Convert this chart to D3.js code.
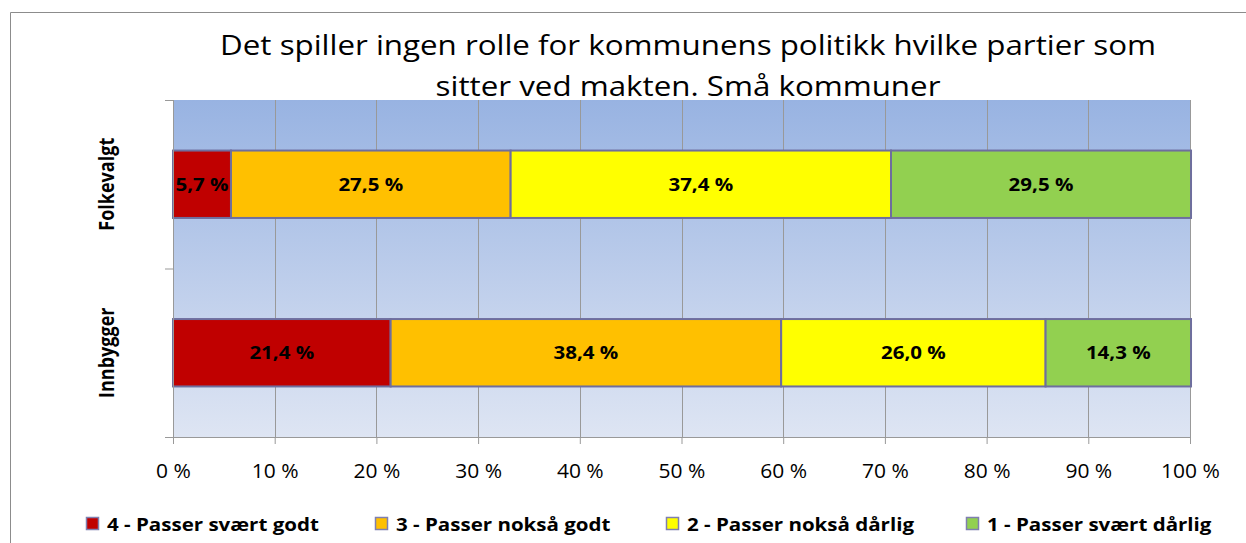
<!DOCTYPE html>
<html>
<head>
<meta charset="utf-8">
<script src="https://cdn.jsdelivr.net/npm/d3@7"></script>
<style>
  body { margin: 0; background: #fff; }
  text { font-family: "Open Sans", sans-serif; }
</style>
</head>
<body>
<script>
// data
const categories = ["Folkevalgt", "Innbygger"];
const seriesNames = ["4 - Passer svært godt", "3 - Passer nokså godt", "2 - Passer nokså dårlig", "1 - Passer svært dårlig"];
const folkevalgt = [5.7, 27.5, 37.4, 29.5];
const innbygger = [21.4, 38.4, 26.0, 14.3];
const colors = ["#C00000", "#FFC000", "#FFFF00", "#92D050"];
const xTicks = [0, 10, 20, 30, 40, 50, 60, 70, 80, 90, 100];
const titleLines = ["Det spiller ingen rolle for kommunens politikk hvilke partier som", "sitter ved makten. Små kommuner"];

const width = 1246, height = 543;
const margin = {top: 100, right: 56, bottom: 106, left: 173};
const innerW = width - margin.left - margin.right;
const innerH = height - margin.top - margin.bottom;
const stretch = 1.14; // the original picture is stretched horizontally

const svg = d3.select("body")
    .append("svg")
    .attr("width", width)
    .attr("height", height);

// outer frame
svg.append("path")
    .attr("d", `M10.5,${height} L10.5,12.5 L${width},12.5`)
    .attr("fill", "none")
    .attr("stroke", "#8c8c8c")
    .attr("stroke-width", 1);

// title
svg.append("g")
    .selectAll("g")
    .data(titleLines)
    .join("g")
    .attr("transform", (d, i) => `translate(688,${55 + i * 41}) scale(1.16,1)`)
    .append("text")
    .attr("text-anchor", "middle")
    .attr("font-size", 27)
    .attr("fill", "#000")
    .text(d => d);

const defs = svg.append("defs");
const grad = defs.append("linearGradient")
    .attr("id", "bg")
    .attr("x1", 0).attr("y1", 0).attr("x2", 0).attr("y2", 1);
grad.append("stop").attr("offset", "0%").attr("stop-color", "#98B3E2");
grad.append("stop").attr("offset", "100%").attr("stop-color", "#DEE5F3");

const g = svg.append("g")
    .attr("transform", `translate(${margin.left},${margin.top})`);

const x = d3.scaleLinear().domain([0, 100]).range([0, innerW]);
const y = d3.scaleBand().domain(categories).range([0, innerH]).paddingInner(0.6).paddingOuter(0.3);

g.append("rect")
    .attr("width", innerW)
    .attr("height", innerH)
    .attr("fill", "url(#bg)");

// gridlines
g.append("g")
    .selectAll("line")
    .data(xTicks.slice(1))
    .join("line")
    .attr("x1", d => Math.round(x(d)) + 0.5)
    .attr("x2", d => Math.round(x(d)) + 0.5)
    .attr("y1", 0)
    .attr("y2", innerH)
    .attr("stroke", "#999")
    .attr("stroke-width", 1);

// stacked data
const rows = categories.map((c, i) => {
    const vals = i === 0 ? folkevalgt : innbygger;
    const o = {cat: c};
    seriesNames.forEach((s, j) => o[s] = vals[j]);
    return o;
});
const stacked = d3.stack().keys(seriesNames)(rows);

const layers = g.append("g")
    .selectAll("g")
    .data(stacked)
    .join("g")
    .attr("fill", (d, i) => colors[i]);

layers.selectAll("rect")
    .data(d => d)
    .join("rect")
    .attr("x", d => x(d[0]))
    .attr("y", d => y(d.data.cat))
    .attr("width", d => x(d[1]) - x(d[0]))
    .attr("height", y.bandwidth())
    .attr("stroke", "#6E6E9E")
    .attr("stroke-width", 2);

layers.selectAll("g.lab")
    .data(d => d)
    .join("g")
    .attr("transform", d => `translate(${(x(d[0]) + x(d[1])) / 2},${y(d.data.cat) + y.bandwidth() / 2}) scale(${stretch},1)`)
    .append("text")
    .attr("dy", "0.36em")
    .attr("text-anchor", "middle")
    .attr("font-size", 18)
    .attr("font-weight", "bold")
    .attr("fill", "#000")
    .text(d => (d[1] - d[0]).toFixed(1).replace(".", ",") + " %");

// x axis
const xAxis = g.append("g")
    .attr("transform", `translate(0,${innerH})`)
    .call(d3.axisBottom(x).tickValues(xTicks).tickSize(7).tickFormat(d => d + " %"));
xAxis.select(".domain").attr("stroke", "#999");
xAxis.selectAll(".tick line").attr("stroke", "#999");
xAxis.selectAll(".tick text")
    .attr("font-size", 20)
    .attr("font-family", "'Open Sans', sans-serif")
    .attr("fill", "#000")
    .attr("y", 0)
    .attr("dy", 0)
    .attr("transform", `translate(0,41) scale(1.05,1)`);

// y axis
const yAxis = g.append("g");
yAxis.append("line")
    .attr("x1", 0.5).attr("x2", 0.5)
    .attr("y1", 0).attr("y2", innerH + 7)
    .attr("stroke", "#999");
yAxis.selectAll(".ytick")
    .data([0, innerH / 2, innerH])
    .join("line")
    .attr("x1", -8).attr("x2", 0)
    .attr("y1", d => d + 0.5).attr("y2", d => d + 0.5)
    .attr("stroke", "#999");
yAxis.selectAll(".ylab")
    .data(categories)
    .join("text")
    .attr("transform", d => `translate(-59,${y(d) + y.bandwidth() / 2}) scale(${stretch},1) rotate(-90)`)
    .attr("text-anchor", "middle")
    .attr("font-size", 18)
    .attr("font-weight", "bold")
    .attr("fill", "#000")
    .text(d => d);

// legend
const legendX = [86, 375, 666, 966];
const legend = svg.append("g")
    .selectAll("g")
    .data(seriesNames)
    .join("g")
    .attr("transform", (d, i) => `translate(${legendX[i]},517)`);
legend.append("rect")
    .attr("x", 0.5).attr("y", 0.5)
    .attr("width", 12).attr("height", 12)
    .attr("fill", (d, i) => colors[i])
    .attr("stroke", "#7F7FB0")
    .attr("stroke-width", 1.5);
legend.append("g")
    .attr("transform", `translate(21,14) scale(${stretch},1)`)
    .append("text")
    .attr("font-size", 18)
    .attr("font-weight", "bold")
    .attr("fill", "#000")
    .text(d => d);
</script>
</body>
</html>
